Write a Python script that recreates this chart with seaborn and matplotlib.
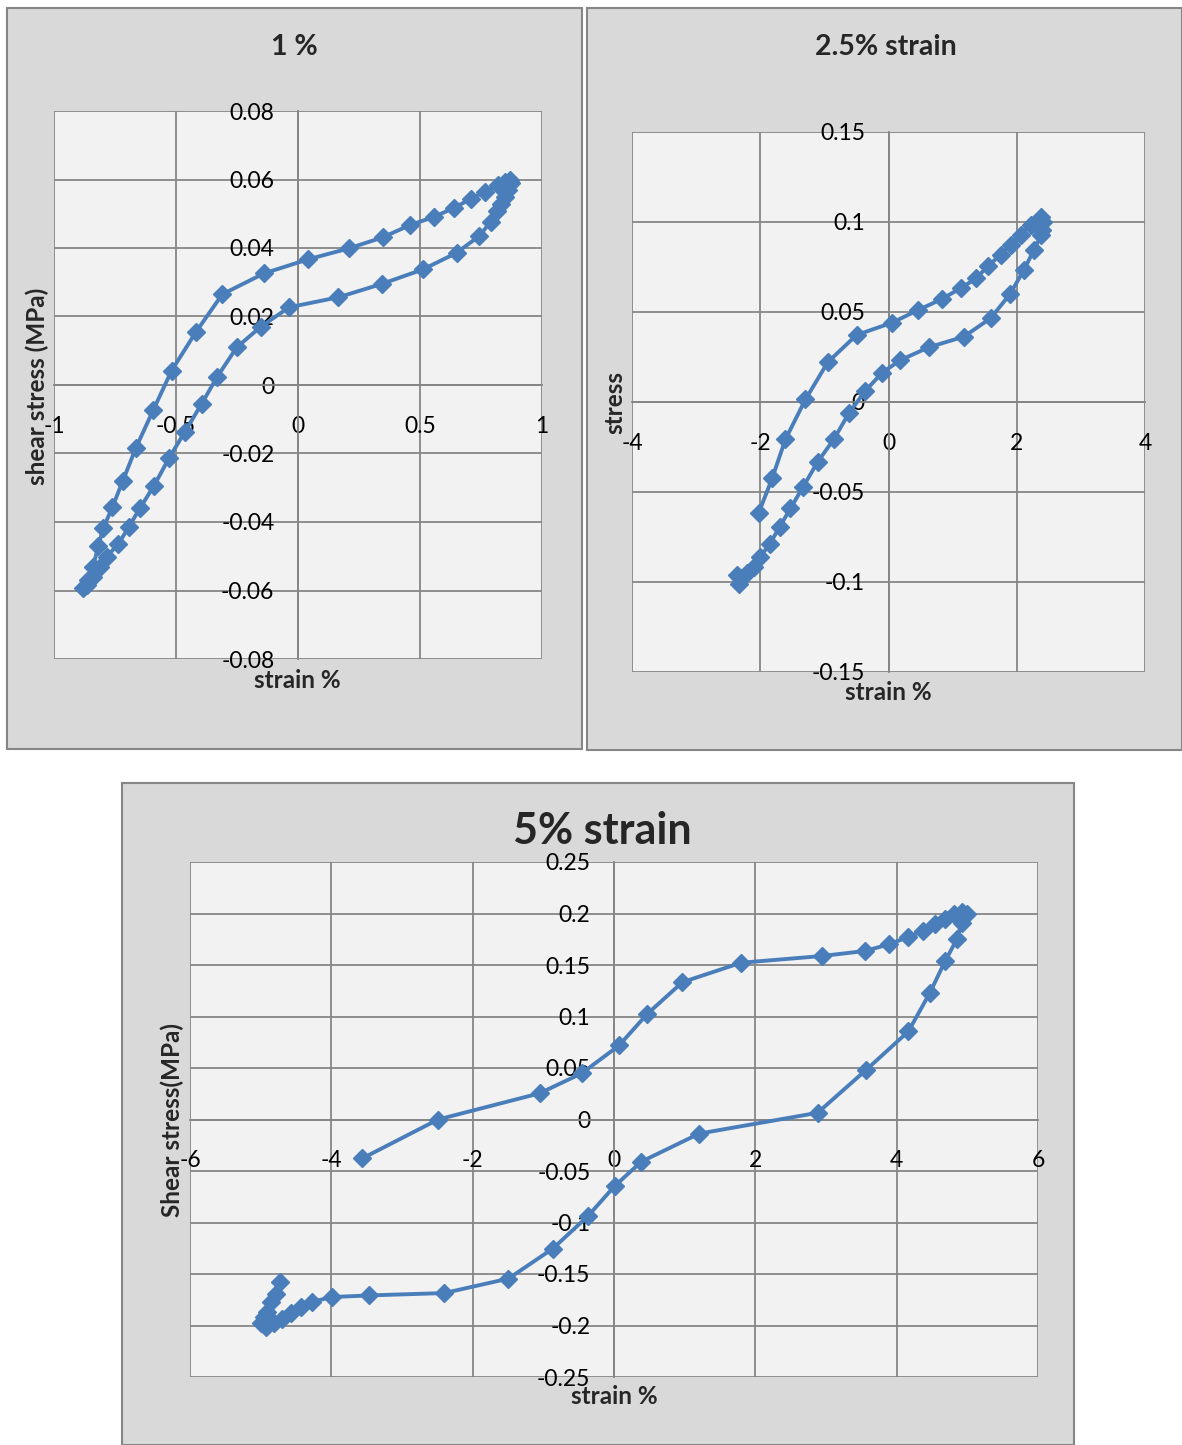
import numpy as np
import matplotlib
matplotlib.use("Agg")
import matplotlib.pyplot as plt
from matplotlib.patches import Rectangle
from matplotlib.ticker import FuncFormatter
import seaborn as sns

# ---- data ----
p1_strain = [-0.880, -0.861, -0.840, -0.818, -0.798, -0.761, -0.718, -0.664, -0.593, -0.518,
             -0.419, -0.310, -0.139, 0.042, 0.209, 0.347, 0.459, 0.559, 0.641, 0.708,
             0.766, 0.821, 0.848, 0.869, 0.873, 0.862, 0.848, 0.832, 0.816, 0.790,
             0.743, 0.650, 0.514, 0.343, 0.165, -0.036, -0.153, -0.251, -0.331, -0.395,
             -0.463, -0.529, -0.590, -0.648, -0.693, -0.736, -0.784, -0.811, -0.839, -0.865]
p1_stress = [-0.0594, -0.0569, -0.0531, -0.0469, -0.0418, -0.0357, -0.0280, -0.0183, -0.0073, 0.0042,
             0.0154, 0.0265, 0.0326, 0.0367, 0.0399, 0.0431, 0.0467, 0.0491, 0.0518, 0.0543,
             0.0564, 0.0584, 0.0593, 0.0599, 0.0590, 0.0569, 0.0549, 0.0528, 0.0508, 0.0477,
             0.0435, 0.0386, 0.0338, 0.0295, 0.0256, 0.0227, 0.0170, 0.0110, 0.0024, -0.0055,
             -0.0136, -0.0214, -0.0294, -0.0360, -0.0414, -0.0464, -0.0501, -0.0531, -0.0560, -0.0584]

p2_strain = [-2.023, -1.814, -1.607, -1.295, -0.947, -0.499, 0.058, 0.463, 0.827, 1.123,
             1.368, 1.555, 1.747, 1.903, 2.059, 2.215, 2.371, 2.410, 2.400, 2.382,
             2.267, 2.111, 1.892, 1.591, 1.175, 0.629, 0.187, -0.098, -0.359, -0.619,
             -0.853, -1.103, -1.331, -1.529, -1.696, -1.852, -1.997, -2.101, -2.204, -2.309,
             -2.335, -2.360]
p2_stress = [-0.0615, -0.0424, -0.0207, 0.0014, 0.0221, 0.0372, 0.0441, 0.0511, 0.0571, 0.0632,
             0.0687, 0.0757, 0.0817, 0.0872, 0.0928, 0.0983, 0.1029, 0.1000, 0.0956, 0.0928,
             0.0844, 0.0733, 0.0598, 0.0465, 0.0363, 0.0304, 0.0233, 0.0163, 0.0063, -0.0063,
             -0.0207, -0.0332, -0.0471, -0.0591, -0.0693, -0.0789, -0.0859, -0.0915, -0.0952, -0.0978,
             -0.1011, -0.0961]

p3_strain = [-3.56, -2.49, -1.054, -0.455, 0.072, 0.469, 0.968, 1.798, 2.939, 3.552,
             3.892, 4.166, 4.368, 4.542, 4.686, 4.816, 4.924, 4.996, 4.920, 4.852,
             4.686, 4.469, 4.166, 3.567, 2.881, 1.206, 0.388, 0.009, -0.369, -0.865,
             -1.494, -2.402, -3.466, -3.995, -4.270, -4.435, -4.577, -4.695, -4.813, -4.930,
             -5.000, -4.950, -4.910, -4.860, -4.790, -4.720]
p3_stress = [-0.0377, 0.0000, 0.0254, 0.0449, 0.0719, 0.1024, 0.1333, 0.1522, 0.1587, 0.1636,
             0.1701, 0.1772, 0.1831, 0.1896, 0.1951, 0.2000, 0.2010, 0.1993, 0.1910, 0.1750,
             0.1538, 0.1229, 0.0855, 0.0481, 0.0065, -0.0137, -0.0409, -0.0646, -0.0938, -0.1253,
             -0.1545, -0.1685, -0.1708, -0.1724, -0.1770, -0.1820, -0.1880, -0.1935, -0.1980, -0.2016,
             -0.1980, -0.1920, -0.1870, -0.1770, -0.1690, -0.1580]

sns.set_style("whitegrid")
plt.rcParams['font.family'] = ['Lato', 'DejaVu Sans']
plt.rcParams['axes.unicode_minus'] = False

W, H = 1182, 1445
BLUE = "#4a7ebb"
GRID = "#868686"
TICK_FS = 16.5
LAB_FS = 17.5

fig = plt.figure(figsize=(W / 100, H / 100), dpi=100)
fig.patch.set_facecolor("white")


def box(x0, y0, x1, y1):
    return [x0 / W, 1 - y1 / H, (x1 - x0) / W, (y1 - y0) / H]


def frame(x0, y0, x1, y1):
    r = Rectangle((x0 / W, 1 - y1 / H), (x1 - x0) / W, (y1 - y0) / H,
                  transform=fig.transFigure, facecolor="#d9d9d9",
                  edgecolor=GRID, linewidth=1.5, zorder=0)
    fig.add_artist(r)


def tick_text(v, pos):
    v = round(v, 6) + 0.0
    if v == 0:
        return "0"
    return "%g" % v


def panel(rect, x, y, xlim, ylim, xstep, ystep):
    ax = fig.add_axes(box(*rect))
    ax.set_facecolor("#f2f2f2")
    sns.lineplot(x=x, y=y, sort=False, estimator=None, ax=ax, color=BLUE,
                 linewidth=2.8, marker="D", markersize=9, markeredgecolor=BLUE,
                 markeredgewidth=1, zorder=3)
    ax.set_xlim(*xlim)
    ax.set_ylim(*ylim)
    ax.set_xticks(np.arange(xlim[0], xlim[1] + xstep / 2, xstep))
    ax.set_yticks(np.arange(ylim[0], ylim[1] + ystep / 2, ystep))
    ax.xaxis.set_major_formatter(FuncFormatter(tick_text))
    ax.yaxis.set_major_formatter(FuncFormatter(tick_text))
    ax.grid(True, color=GRID, linewidth=1.3)
    for s in ["top", "right"]:
        ax.spines[s].set_visible(False)
    ax.spines["left"].set_position(("data", 0))
    ax.spines["bottom"].set_position(("data", 0))
    for s in ["left", "bottom"]:
        ax.spines[s].set_color(GRID)
        ax.spines[s].set_linewidth(1.3)
    ax.tick_params(axis="x", length=0, pad=22, labelsize=TICK_FS, colors="black")
    ax.tick_params(axis="y", length=0, pad=17, labelsize=TICK_FS, colors="black")
    ax.set_xlabel("")
    ax.set_ylabel("")
    ax.set_axisbelow(True)
    return ax


# top-left: 1 %
frame(7, 8, 582, 749)
panel((54, 111, 542, 659), p1_strain, p1_stress, (-1, 1), (-0.08, 0.08), 0.5, 0.02)
fig.text(294 / W, 1 - 47 / H, "1 %", ha="center", va="center", fontsize=20.5, fontweight="bold")
fig.text(297 / W, 1 - 681 / H, "strain %", ha="center", va="center", fontsize=LAB_FS, fontweight="bold")
fig.text(37 / W, 1 - 386 / H, "shear stress (MPa)", ha="center", va="center", rotation=90,
         fontsize=LAB_FS, fontweight="bold")

# top-right: 2.5 % strain
frame(587, 8, 1182, 750)
panel((632, 132, 1145, 672), p2_strain, p2_stress, (-4, 4), (-0.15, 0.15), 2, 0.05)
fig.text(886 / W, 1 - 47 / H, "2.5% strain", ha="center", va="center", fontsize=20.5, fontweight="bold")
fig.text(888 / W, 1 - 693 / H, "strain %", ha="center", va="center", fontsize=LAB_FS, fontweight="bold")
fig.text(615 / W, 1 - 402 / H, "stress", ha="center", va="center", rotation=90,
         fontsize=LAB_FS, fontweight="bold")

# bottom: 5 % strain
frame(122, 783, 1074, 1445)
panel((190, 862, 1038, 1377), p3_strain, p3_stress, (-6, 6), (-0.25, 0.25), 2, 0.05)
fig.text(602 / W, 1 - 831 / H, "5% strain", ha="center", va="center", fontsize=31, fontweight="bold")
fig.text(614 / W, 1 - 1397 / H, "strain %", ha="center", va="center", fontsize=LAB_FS, fontweight="bold")
fig.text(172 / W, 1 - 1120 / H, "Shear stress(MPa)", ha="center", va="center", rotation=90,
         fontsize=LAB_FS, fontweight="bold")

fig.savefig("out.png", dpi=100)
